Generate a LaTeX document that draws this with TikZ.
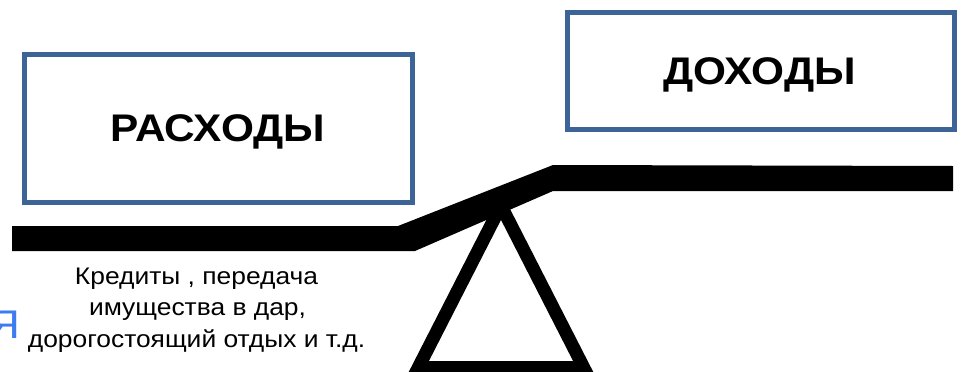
\documentclass[tikz,border=0pt]{standalone}
\usepackage{fontspec}
\setmainfont[FakeStretch=1.1]{Liberation Sans}
\usetikzlibrary{positioning}
\definecolor{boxblue}{HTML}{3D6496}
\definecolor{letterblue}{HTML}{3C7BF0}
\tikzset{
  sumbox/.style={draw=boxblue, line width=5pt, fill=white},
  sumtext/.style={anchor=base, font=\fontsize{38.5}{38.5}\selectfont\bfseries},
  notetext/.style={anchor=base, font=\fontsize{24}{32}\selectfont},
}
\begin{document}
\begin{tikzpicture}[x=1pt,y=-1pt]
\useasboundingbox (0,0) rectangle (961,372);

%Expenses box
\node [sumbox,
	minimum width=388pt,
	minimum height=148pt,
]  (exbox)at (218.5,128.5) {};
\node [sumtext]  (extext)at (218,141.7) {РАСХОДЫ};

%Income box
\node [sumbox,
	minimum width=387pt,
	minimum height=117pt,
]  (inbox)at (761,71) {};
\node [sumtext]  (intext)at (759.5,84) {ДОХОДЫ};

%Support
\coordinate (apex) at (501,205.6);
\coordinate (sleft) at (418.3,367.5);
\coordinate (sright) at (583.7,367.5);
\draw [line width=13pt, line join=miter] (apex) -- (sleft) -- (sright) -- cycle;

%Beam
\fill (12,226) -- (398,226) -- (553,165) -- (953,166) -- (953,191)
  -- (553,191) -- (415,251) -- (12,251) -- cycle;

%Note under the beam
\node [notetext]  (note1)at (196.5,284.7) {Кредиты , передача};
\node [notetext]  (note2)at (197.5,315.5) {имущества в дар,};
\node [notetext]  (note3)at (196.5,347) {дорогостоящий отдых и т.д.};

\node [anchor=base east, text=letterblue, inner sep=0pt,
	font=\fontsize{40}{40}\selectfont]  (letter)at (20,338) {Я};

\end{tikzpicture}
\end{document}
